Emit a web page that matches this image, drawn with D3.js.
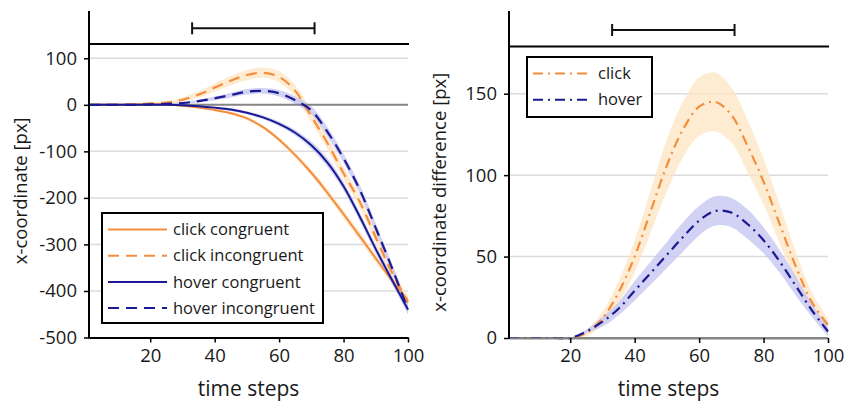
<!DOCTYPE html>
<html>
<head>
<meta charset="utf-8">
<script src="https://cdn.jsdelivr.net/npm/d3@7"></script>
<style>
  body { margin: 0; background: #fff; }
  text { font-family: "Open Sans", "Noto Sans", sans-serif; fill: #1a1a1a; }
</style>
</head>
<body>
<script>
const WIDTH = 845;
const HEIGHT = 404;

const ORANGE = '#f68d3c';
const BLUE = '#1a1a94';
const ORANGE_BAND = '#fde6c3';
const BLUE_BAND = '#c3c3f0';

const steps = [1, 5, 10, 15, 20, 25, 30, 35, 40, 45, 50, 55, 60, 65, 70, 75, 80, 85, 90, 95, 100];

// left panel: mean x-coordinate per condition
const clickCongruent   = [0, 0, 0, 1, 2, 1, -2, -6, -11, -18, -29, -48, -75, -108, -146, -189, -235, -282, -330, -377, -420];
const clickIncongruent = [0, 0, 0, 1, 3, 5, 11, 22, 37, 52, 64, 69, 60, 30, -25, -82, -147, -208, -285, -360, -425];
const hoverCongruent   = [0, 0, 0, 0, 0, 0, -1, -3, -6, -10, -17, -27, -41, -60, -87, -124, -175, -240, -310, -376, -440];
const hoverIncongruent = [0, 0, 0, 0, 1, 2, 4, 8, 14, 21, 28, 30, 25, 10, -12, -58, -115, -182, -265, -350, -440];

// confidence band half-widths
const ciClickCongruent   = [0, 0, 0, 0, 1, 1, 2, 2, 3, 3, 4, 4, 5, 6, 7, 8, 9, 9, 9, 9, 9];
const ciClickIncongruent = [0, 0, 0, 1, 2, 3, 5, 7, 9, 10, 11, 11, 12, 12, 13, 14, 14, 13, 12, 12, 11];
const ciHoverCongruent   = [0, 0, 0, 0, 0, 1, 1, 2, 2, 3, 3, 4, 5, 6, 8, 9, 9, 9, 9, 9, 9];
const ciHoverIncongruent = [0, 0, 0, 0, 1, 1, 2, 3, 4, 5, 6, 6, 7, 8, 9, 10, 10, 10, 10, 10, 10];

// right panel: incongruent minus congruent
const diffClick   = [0, 0, 0, 0, 0, 3, 12, 28, 50, 78, 106, 128, 142, 145, 137, 118, 96, 70, 44, 22, 8];
const diffHover   = [0, 0, 0, 0, 0, 4, 10, 18, 29, 40, 51, 62, 72, 78, 77, 70, 60, 47, 32, 17, 4];
const ciDiffClick = [0, 0, 0, 0, 0, 2, 4, 7, 10, 13, 16, 17, 18, 18, 17, 16, 14, 12, 9, 6, 4];
const ciDiffHover = [0, 0, 0, 0, 0, 1, 3, 4, 6, 7, 8, 9, 9, 9, 9, 9, 8, 7, 6, 4, 3];

// interval shown above both panels
const markedInterval = [33, 71];

const xTicks = [20, 40, 60, 80, 100];
const leftYTicks = [100, 0, -100, -200, -300, -400, -500];
const rightYTicks = [0, 50, 100, 150];

const leftSeries = [
  { name: 'click congruent',    values: clickCongruent,   ci: ciClickCongruent,   color: ORANGE, band: ORANGE_BAND, dash: null },
  { name: 'click incongruent',  values: clickIncongruent, ci: ciClickIncongruent, color: ORANGE, band: ORANGE_BAND, dash: '11,7' },
  { name: 'hover congruent',    values: hoverCongruent,   ci: ciHoverCongruent,   color: BLUE,   band: BLUE_BAND,   dash: null },
  { name: 'hover incongruent',  values: hoverIncongruent, ci: ciHoverIncongruent, color: BLUE,   band: BLUE_BAND,   dash: '11,7' },
];
const rightSeries = [
  { name: 'click', values: diffClick, ci: ciDiffClick, color: ORANGE, band: ORANGE_BAND, dash: '10,5,2,5' },
  { name: 'hover', values: diffHover, ci: ciDiffHover, color: BLUE,   band: BLUE_BAND,   dash: '10,5,2,5' },
];

const svg = d3.select('body').append('svg')
  .attr('width', WIDTH)
  .attr('height', HEIGHT);

function drawPanel(opts) {
  const x = d3.scaleLinear().domain([1, 100]).range([opts.left, opts.right]);
  const y = d3.scaleLinear().domain(opts.yDomain).range(opts.yRange);
  const g = svg.append('g');
  const bottom = opts.yRange[0];

  // grid
  g.selectAll('.grid')
    .data(opts.yTicks.filter(d => d !== 0 && d !== opts.yDomain[0]))
    .enter().append('line')
    .attr('x1', opts.left).attr('x2', opts.right)
    .attr('y1', d => y(d)).attr('y2', d => y(d))
    .attr('stroke', '#dcdcdc').attr('stroke-width', 1.5);

  // bands
  const area = d3.area()
    .x((d, i) => x(steps[i]))
    .y0(d => y(d[0]))
    .y1(d => y(d[1]))
    .curve(d3.curveCatmullRom.alpha(0.5));
  opts.series.forEach(s => {
    const pts = s.values.map((v, i) => [v - s.ci[i], v + s.ci[i]]);
    g.append('path').datum(pts)
      .attr('d', area)
      .attr('fill', s.band)
      .attr('fill-opacity', 0.75);
  });

  // zero line
  g.append('line')
    .attr('x1', opts.left).attr('x2', opts.right)
    .attr('y1', y(0)).attr('y2', y(0))
    .attr('stroke', '#858585').attr('stroke-width', 2);

  const line = d3.line()
    .x((d, i) => x(steps[i]))
    .y(d => y(d))
    .curve(d3.curveCatmullRom.alpha(0.5));
  opts.series.forEach(s => {
    g.append('path').datum(s.values)
      .attr('d', line)
      .attr('fill', 'none')
      .attr('stroke', s.color)
      .attr('stroke-width', s.dash ? 2.2 : 2)
      .attr('stroke-dasharray', s.dash);
  });

  // x axis
  const xAxis = g.append('g')
    .attr('transform', `translate(0,${bottom})`)
    .call(d3.axisBottom(x).tickValues(xTicks).tickSize(5).tickPadding(6).tickSizeOuter(0));
  xAxis.select('.domain').attr('stroke', opts.xAxisColor).attr('stroke-width', 2);
  xAxis.selectAll('.tick line').attr('stroke', '#000').attr('stroke-width', 1.5);
  xAxis.selectAll('.tick text').attr('font-size', 18.5).attr('fill', '#1a1a1a')
    .attr('font-family', '"Open Sans", sans-serif');

  // y axis
  const yAxis = g.append('g')
    .attr('transform', `translate(${opts.left},0)`)
    .call(d3.axisLeft(y).tickValues(opts.yTicks).tickSize(5).tickPadding(7).tickSizeOuter(0)
      .tickFormat(d => String(d)));
  yAxis.select('.domain').remove();
  yAxis.selectAll('.tick line').attr('stroke', '#000').attr('stroke-width', 1.5);
  yAxis.selectAll('.tick text').attr('font-size', 18.5).attr('fill', '#1a1a1a')
    .attr('font-family', '"Open Sans", sans-serif');
  g.append('line')
    .attr('x1', opts.left).attr('x2', opts.left)
    .attr('y1', opts.axisTop).attr('y2', bottom + 1)
    .attr('stroke', '#000').attr('stroke-width', 2);

  // frame line under the interval row
  g.append('line')
    .attr('x1', opts.left).attr('x2', opts.right + 1)
    .attr('y1', opts.frameY).attr('y2', opts.frameY)
    .attr('stroke', '#000').attr('stroke-width', 2);

  // marked interval
  const iy = opts.intervalY;
  const ig = g.append('g').attr('stroke', '#111').attr('stroke-width', 2);
  ig.append('line').attr('x1', x(markedInterval[0])).attr('x2', x(markedInterval[1]))
    .attr('y1', iy).attr('y2', iy);
  markedInterval.forEach(v => {
    ig.append('line').attr('x1', x(v)).attr('x2', x(v))
      .attr('y1', iy - 6).attr('y2', iy + 6);
  });

  // labels
  g.append('text')
    .attr('x', (opts.left + opts.right) / 2).attr('y', 396)
    .attr('text-anchor', 'middle').attr('font-size', 21)
    .text('time steps');
  g.append('text')
    .attr('transform', `translate(${opts.yLabelX},${(opts.frameY + bottom) / 2}) rotate(-90)`)
    .attr('text-anchor', 'middle').attr('font-size', 18.5)
    .text(opts.yLabel);

  // legend
  const lg = g.append('g');
  lg.append('rect')
    .attr('x', opts.legend.x).attr('y', opts.legend.y)
    .attr('width', opts.legend.w).attr('height', opts.legend.h)
    .attr('fill', '#fff').attr('stroke', '#000').attr('stroke-width', 2);
  opts.series.forEach((s, i) => {
    const ry = opts.legend.y + 16.5 + i * 26.2;
    lg.append('line')
      .attr('x1', opts.legend.x + 6).attr('x2', opts.legend.x + 65)
      .attr('y1', ry).attr('y2', ry)
      .attr('stroke', s.color).attr('stroke-width', 2)
      .attr('stroke-dasharray', s.dash);
    lg.append('text')
      .attr('x', opts.legend.x + 71).attr('y', ry)
      .attr('dy', '0.35em').attr('font-size', 16.5)
      .text(s.name);
  });
}

drawPanel({
  left: 89, right: 408,
  yDomain: [-500, 100], yRange: [337.5, 58.3],
  yTicks: leftYTicks,
  axisTop: 11, frameY: 44, intervalY: 28.3,
  xAxisColor: '#000',
  yLabel: 'x-coordinate [px]', yLabelX: 27,
  series: leftSeries,
  legend: { x: 102, y: 213, w: 221, h: 110 },
});

drawPanel({
  left: 509, right: 828,
  yDomain: [0, 150], yRange: [338, 93.7],
  yTicks: rightYTicks,
  axisTop: 11, frameY: 46.5, intervalY: 30,
  xAxisColor: '#858585',
  yLabel: 'x-coordinate difference [px]', yLabelX: 446,
  series: rightSeries,
  legend: { x: 527, y: 57, w: 125, h: 60 },
});
</script>
</body>
</html>
